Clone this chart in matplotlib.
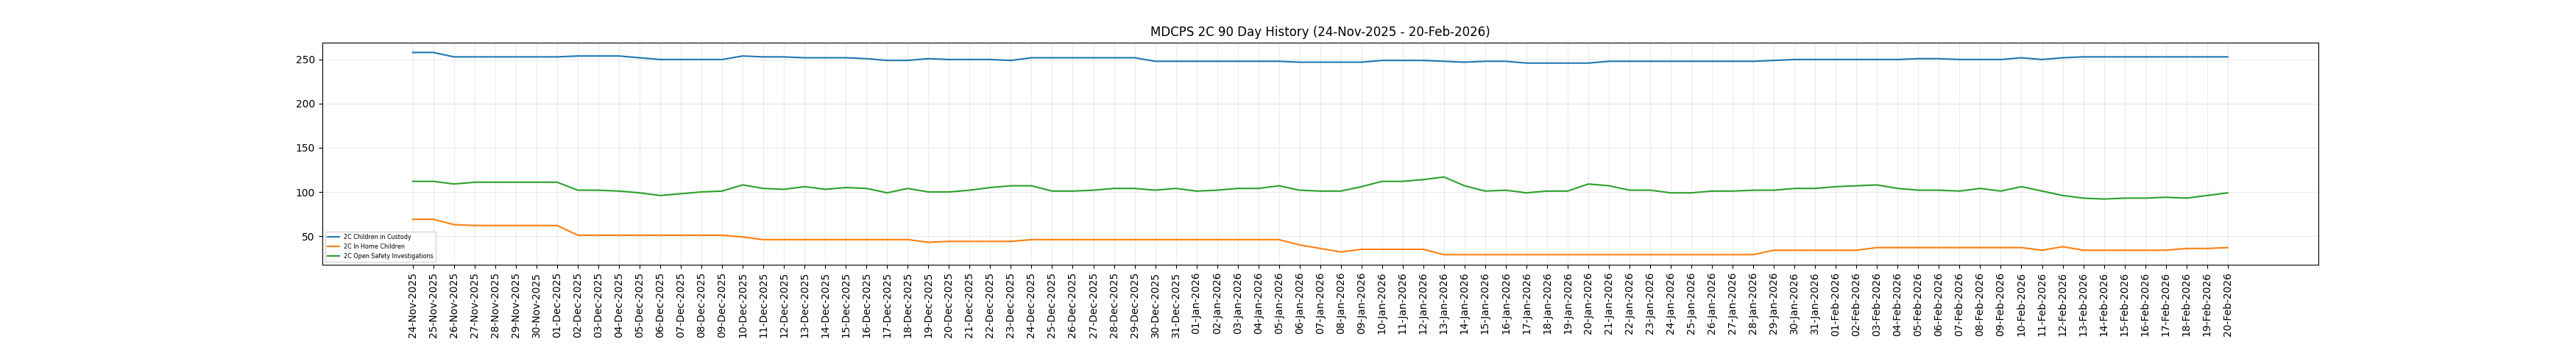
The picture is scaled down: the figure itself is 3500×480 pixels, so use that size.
import matplotlib
matplotlib.use('Agg')
import matplotlib.pyplot as plt
import pandas as pd

# day labels, 24-Nov-2025 .. 20-Feb-2026
dates = [d.strftime('%d-%b-%Y') for d in pd.date_range('2025-11-24', '2026-02-20', freq='D')]

custody = [258, 258, 253, 253, 253, 253, 253, 253, 254, 254,
           254, 252, 250, 250, 250, 250, 254, 253, 253, 252,
           252, 252, 251, 249, 249, 251, 250, 250, 250, 249,
           252, 252, 252, 252, 252, 252, 248, 248, 248, 248,
           248, 248, 248, 247, 247, 247, 247, 249, 249, 249,
           248, 247, 248, 248, 246, 246, 246, 246, 248, 248,
           248, 248, 248, 248, 248, 248, 249, 250, 250, 250,
           250, 250, 250, 251, 251, 250, 250, 250, 252, 250,
           252, 253, 253, 253, 253, 253, 253, 253, 253]

in_home = [69, 69, 63, 62, 62, 62, 62, 62, 51, 51,
           51, 51, 51, 51, 51, 51, 49, 46, 46, 46,
           46, 46, 46, 46, 46, 43, 44, 44, 44, 44,
           46, 46, 46, 46, 46, 46, 46, 46, 46, 46,
           46, 46, 46, 40, 36, 32, 35, 35, 35, 35,
           29, 29, 29, 29, 29, 29, 29, 29, 29, 29,
           29, 29, 29, 29, 29, 29, 34, 34, 34, 34,
           34, 37, 37, 37, 37, 37, 37, 37, 37, 34,
           38, 34, 34, 34, 34, 34, 36, 36, 37]

investigations = [112, 112, 109, 111, 111, 111, 111, 111, 102, 102,
                  101, 99, 96, 98, 100, 101, 108, 104, 103, 106,
                  103, 105, 104, 99, 104, 100, 100, 102, 105, 107,
                  107, 101, 101, 102, 104, 104, 102, 104, 101, 102,
                  104, 104, 107, 102, 101, 101, 106, 112, 112, 114,
                  117, 107, 101, 102, 99, 101, 101, 109, 107, 102,
                  102, 99, 99, 101, 101, 102, 102, 104, 104, 106,
                  107, 108, 104, 102, 102, 101, 104, 101, 106, 101,
                  96, 93, 92, 93, 93, 94, 93, 96, 99]

plt.figure(figsize=(35, 4.8), dpi=100)
plt.plot(dates, custody, label='2C Children in Custody')
plt.plot(dates, in_home, label='2C In Home Children')
plt.plot(dates, investigations, label='2C Open Safety Investigations')
plt.title('MDCPS 2C 90 Day History (24-Nov-2025 - 20-Feb-2026)')
plt.xticks(rotation=90)
plt.grid(alpha=0.25)
plt.legend(loc='lower left', fontsize='xx-small')
plt.subplots_adjust(bottom=0.25)
plt.savefig('out.png')
